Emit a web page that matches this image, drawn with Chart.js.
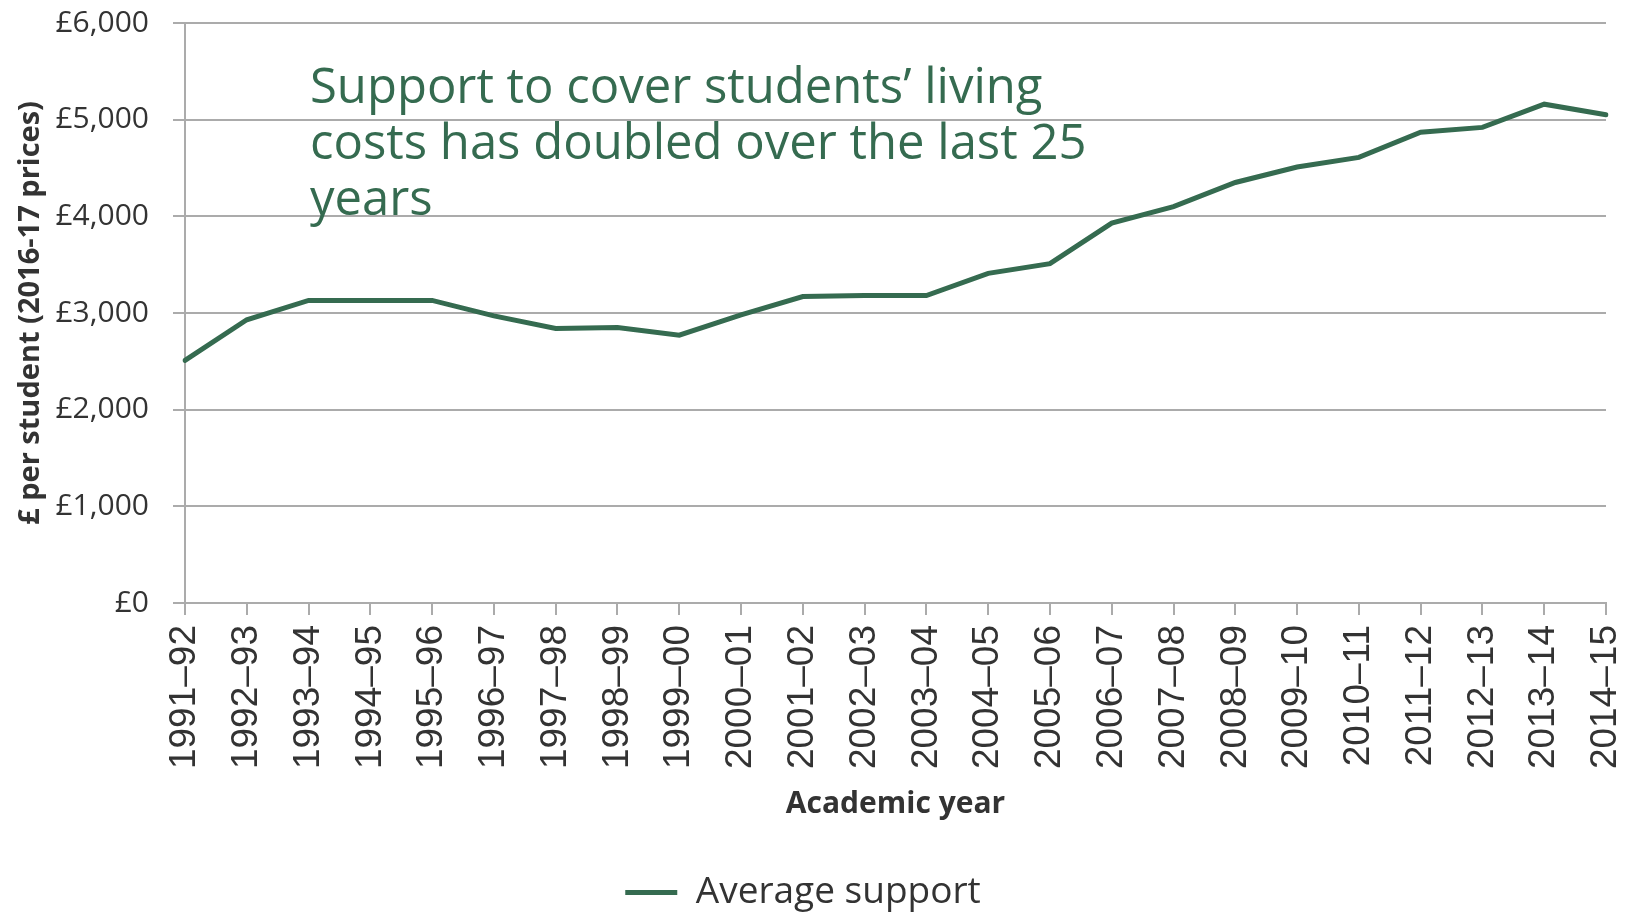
<!DOCTYPE html>
<html lang="en">
<head>
<meta charset="utf-8">
<title>Average student living-cost support</title>
<script src="https://cdn.jsdelivr.net/npm/chart.js@4/dist/chart.umd.min.js"></script>
<style>
  html, body { margin: 0; padding: 0; background: #ffffff; }
  #wrap { width: 1638px; height: 912px; position: relative; }
</style>
</head>
<body>
<div id="wrap"><canvas id="chart"></canvas></div>
<script>
// Academic years on the horizontal axis
const academicYears = [
  '1991–92', '1992–93', '1993–94', '1994–95', '1995–96', '1996–97',
  '1997–98', '1998–99', '1999–00', '2000–01', '2001–02', '2002–03',
  '2003–04', '2004–05', '2005–06', '2006–07', '2007–08', '2008–09',
  '2009–10', '2010–11', '2011–12', '2012–13', '2013–14', '2014–15'
];

// Average support per student, £ in 2016-17 prices
const averageSupport = [
  2510, 2930, 3130, 3130, 3130, 2970,
  2840, 2850, 2770, 2980, 3170, 3180,
  3180, 3410, 3510, 3930, 4100, 4350,
  4510, 4610, 4870, 4920, 5160, 5050
];

// Value-axis ticks
const yTicks = [0, 1000, 2000, 3000, 4000, 5000, 6000];

// Headline text placed inside the plot
const headlineLines = [
  'Support to cover students’ living',
  'costs has doubled over the last 25',
  'years'
];

const GREEN = '#356b50';
const GRID = '#ababab';
const TEXT = '#333333';

const headlinePlugin = {
  id: 'headline',
  afterDraw(chart) {
    const { ctx, chartArea } = chart;
    ctx.save();
    ctx.font = '49px "Open Sans"';
    ctx.fillStyle = GREEN;
    ctx.textAlign = 'left';
    ctx.textBaseline = 'alphabetic';
    headlineLines.forEach((line, i) => {
      ctx.fillText(line, chartArea.left + 125, chartArea.top + 80 + i * 56);
    });
    ctx.restore();
  }
};

const ctx = document.getElementById('chart');
new Chart(ctx, {
  type: 'line',
  data: {
    labels: academicYears,
    datasets: [{
      label: 'Average support',
      data: averageSupport,
      borderColor: GREEN,
      backgroundColor: GREEN,
      borderWidth: 5,
      borderCapStyle: 'round',
      pointRadius: 0,
      pointHoverRadius: 0,
      tension: 0,
      fill: false
    }]
  },
  options: {
    responsive: true,
    maintainAspectRatio: false,
    animation: false,
    layout: { padding: { top: 23, right: 32, bottom: -9, left: 0 } },
    plugins: {
      tooltip: { enabled: false },
      legend: {
        position: 'bottom',
        align: 'center',
        labels: {
          usePointStyle: true,
          pointStyle: 'line',
          pointStyleWidth: 52,
          padding: 10,
          color: TEXT,
          font: { family: '"Open Sans"', size: 37 }
        }
      }
    },
    scales: {
      x: {
        type: 'category',
        offset: false,
        grid: {
          display: true,
          drawOnChartArea: false,
          drawTicks: true,
          tickLength: 12,
          color: GRID,
          lineWidth: 2
        },
        border: { display: true, color: GRID, width: 2 },
        ticks: {
          autoSkip: false,
          maxRotation: 90,
          minRotation: 90,
          padding: 10,
          color: TEXT,
          font: { family: '"Liberation Sans"', size: 37 }
        },
        title: {
          display: true,
          text: 'Academic year',
          color: TEXT,
          font: { family: '"Open Sans"', size: 30, weight: 'bold' },
          padding: { top: 8, bottom: 42 }
        },
        afterFit(scale) {
          scale.height = 261;
          scale.paddingLeft = 0;
          scale.paddingRight = 0;
        }
      },
      y: {
        min: 0,
        max: 6000,
        afterBuildTicks(scale) { scale.ticks = yTicks.map(v => ({ value: v })); },
        grid: {
          color: GRID,
          lineWidth: 2,
          drawTicks: true,
          tickLength: 12
        },
        border: { display: true, color: GRID, width: 2 },
        ticks: {
          padding: 24,
          color: TEXT,
          font: { family: '"Open Sans"', size: 30 },
          callback: v => '£' + Number(v).toLocaleString('en-GB')
        },
        title: {
          display: true,
          text: '£ per student (2016-17 prices)',
          color: TEXT,
          font: { family: '"Open Sans"', size: 29, weight: 'bold' },
          padding: { top: 13, bottom: 0 }
        },
        afterFit(scale) {
          scale.width = 185;
          scale.paddingTop = 0;
          scale.paddingBottom = 0;
        }
      }
    }
  },
  plugins: [headlinePlugin]
});
</script>
</body>
</html>
